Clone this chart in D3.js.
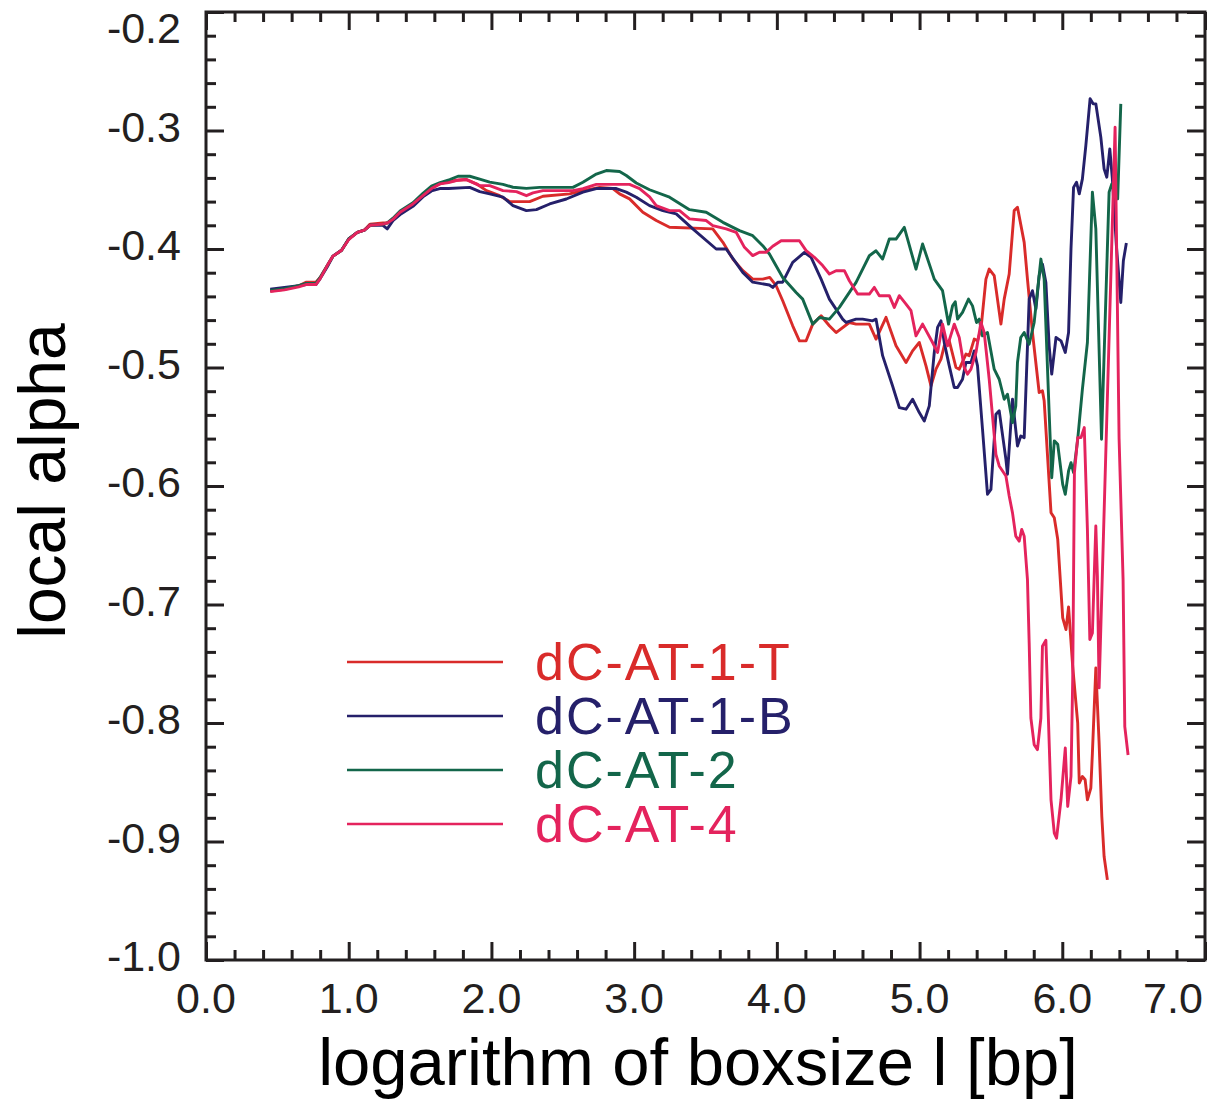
<!DOCTYPE html>
<html>
<head>
<meta charset="utf-8">
<script src="https://cdn.jsdelivr.net/npm/d3@7"></script>
<style>
  html, body { margin: 0; padding: 0; background: #fff; }
  svg { display: block; }
  text { font-family: "Liberation Sans", Arial, Helvetica, sans-serif; }
</style>
</head>
<body>
<svg id="chart" width="1218" height="1102"></svg>
<script>
// ---------------- DATA ----------------
const seriesNames = ["dC-AT-1-T", "dC-AT-1-B", "dC-AT-2", "dC-AT-4"];
const seriesColors = ["#d92b2a", "#25206a", "#13664a", "#e4235d"];

const xTicks = [0, 1, 2, 3, 4, 5, 6, 7];
const yTicks = [-1.0, -0.9, -0.8, -0.7, -0.6, -0.5, -0.4, -0.3, -0.2];

// [log boxsize, local alpha]
const dataT = [
  [0.45,-0.4355],[0.55,-0.434],[0.65,-0.431],[0.70,-0.428],[0.77,-0.428],[0.80,-0.424],[0.85,-0.414],
  [0.89,-0.406],[0.95,-0.401],[1.00,-0.3915],[1.06,-0.386],[1.11,-0.384],[1.15,-0.379],[1.24,-0.378],
  [1.27,-0.378],[1.31,-0.375],[1.36,-0.369],[1.45,-0.362],[1.52,-0.355],[1.58,-0.349],[1.64,-0.345],
  [1.70,-0.343],[1.76,-0.342],[1.825,-0.3414],[1.895,-0.345],[1.965,-0.3507],[2.058,-0.355],[2.128,-0.360],
  [2.268,-0.360],[2.361,-0.3555],[2.548,-0.3535],[2.641,-0.3507],[2.758,-0.348],[2.851,-0.349],[2.898,-0.3535],
  [2.968,-0.3577],[3.061,-0.369],[3.155,-0.376],[3.248,-0.3817],[3.551,-0.383],[3.622,-0.3944],[3.692,-0.4085],
  [3.762,-0.4183],[3.831,-0.4254],[3.901,-0.4254],[3.95,-0.424],[3.995,-0.431],[4.041,-0.4437],[4.111,-0.4648],
  [4.158,-0.4775],[4.205,-0.4775],[4.251,-0.4634],[4.31,-0.4563],[4.368,-0.4648],[4.415,-0.4705],[4.508,-0.462],
  [4.555,-0.4634],[4.648,-0.4634],[4.695,-0.476],[4.765,-0.4577],[4.835,-0.4817],[4.905,-0.4958],[4.951,-0.486],
  [4.998,-0.4789],[5.045,-0.4986],[5.08,-0.5155],[5.115,-0.5014],[5.15,-0.493],[5.173,-0.4817],[5.208,-0.4775],
  [5.255,-0.500],[5.278,-0.5014],[5.325,-0.4887],[5.348,-0.490],[5.383,-0.476],[5.406,-0.4775],[5.43,-0.4676],
  [5.465,-0.4254],[5.488,-0.4169],[5.523,-0.4225],[5.57,-0.4634],[5.593,-0.4423],[5.628,-0.4211],[5.663,-0.3676],
  [5.686,-0.3648],[5.733,-0.3944],[5.756,-0.4254],[5.791,-0.4704],[5.838,-0.5211],[5.861,-0.5197],[5.873,-0.528],
  [5.921,-0.6225],[5.944,-0.6268],[5.968,-0.645],[6.003,-0.7113],[6.026,-0.7211],[6.044,-0.702],[6.073,-0.7522],
  [6.108,-0.800],[6.119,-0.8507],[6.141,-0.8451],[6.16,-0.8479],[6.176,-0.8648],[6.2,-0.855],[6.211,-0.8254],
  [6.235,-0.7536],[6.258,-0.8169],[6.277,-0.8789],[6.293,-0.9127],[6.316,-0.9324]
];

const dataB = [
  [0.45,-0.434],[0.55,-0.4325],[0.65,-0.431],[0.70,-0.430],[0.77,-0.430],[0.80,-0.425],[0.85,-0.415],
  [0.89,-0.406],[0.95,-0.401],[1.00,-0.3915],[1.06,-0.386],[1.11,-0.384],[1.15,-0.380],[1.24,-0.380],
  [1.27,-0.383],[1.31,-0.376],[1.36,-0.371],[1.45,-0.364],[1.52,-0.356],[1.58,-0.351],[1.638,-0.349],
  [1.70,-0.349],[1.848,-0.348],[1.918,-0.3516],[1.988,-0.3535],[2.081,-0.3563],[2.151,-0.3634],[2.245,-0.3676],
  [2.315,-0.3668],[2.408,-0.362],[2.525,-0.3578],[2.641,-0.352],[2.735,-0.349],[2.875,-0.349],[2.945,-0.352],
  [3.015,-0.3563],[3.108,-0.3634],[3.201,-0.3676],[3.295,-0.3704],[3.411,-0.383],[3.575,-0.400],[3.645,-0.400],
  [3.761,-0.4197],[3.831,-0.428],[3.948,-0.4304],[3.971,-0.4324],[4.006,-0.428],[4.041,-0.428],[4.111,-0.4113],
  [4.193,-0.4029],[4.24,-0.407],[4.31,-0.4254],[4.368,-0.4423],[4.461,-0.4592],[4.485,-0.462],[4.555,-0.4592],
  [4.601,-0.4592],[4.671,-0.4606],[4.695,-0.4592],[4.741,-0.490],[4.811,-0.5156],[4.858,-0.5338],[4.905,-0.5352],
  [4.951,-0.5268],[4.998,-0.538],[5.033,-0.5451],[5.068,-0.5324],[5.103,-0.4873],[5.126,-0.4662],[5.15,-0.4606],
  [5.173,-0.479],[5.208,-0.4986],[5.243,-0.5169],[5.266,-0.5169],[5.301,-0.5099],[5.325,-0.4958],[5.36,-0.4958],
  [5.383,-0.486],[5.406,-0.4986],[5.441,-0.5521],[5.476,-0.607],[5.50,-0.6028],[5.535,-0.5394],[5.558,-0.5366],
  [5.605,-0.5775],[5.616,-0.5901],[5.651,-0.5268],[5.686,-0.5662],[5.709,-0.5578],[5.733,-0.5592],[5.768,-0.4423],
  [5.791,-0.4352],[5.815,-0.4507],[5.838,-0.4225],[5.861,-0.4127],[5.885,-0.4282],[5.908,-0.4817],[5.926,-0.5056],
  [5.956,-0.4747],[5.991,-0.4775],[6.021,-0.4873],[6.044,-0.4705],[6.061,-0.40],[6.079,-0.348],[6.10,-0.3437],
  [6.119,-0.3535],[6.141,-0.3408],[6.165,-0.3127],[6.195,-0.2732],[6.216,-0.2775],[6.235,-0.2775],[6.27,-0.3056],
  [6.293,-0.3324],[6.312,-0.3394],[6.333,-0.3155],[6.351,-0.3408],[6.379,-0.397],[6.41,-0.4451],[6.428,-0.4099],
  [6.449,-0.395]
];

const data2 = [
  [0.45,-0.435],[0.55,-0.4335],[0.65,-0.431],[0.70,-0.429],[0.77,-0.429],[0.80,-0.424],[0.85,-0.414],
  [0.89,-0.406],[0.95,-0.401],[1.00,-0.3915],[1.06,-0.386],[1.11,-0.384],[1.15,-0.380],[1.24,-0.379],
  [1.27,-0.378],[1.31,-0.374],[1.36,-0.368],[1.45,-0.361],[1.52,-0.353],[1.58,-0.347],[1.64,-0.344],
  [1.708,-0.3414],[1.766,-0.3386],[1.848,-0.3386],[1.918,-0.341],[1.988,-0.3436],[2.081,-0.3455],[2.151,-0.3479],
  [2.245,-0.3488],[2.338,-0.348],[2.571,-0.348],[2.641,-0.3436],[2.735,-0.3368],[2.805,-0.3338],[2.898,-0.3346],
  [2.945,-0.338],[3.015,-0.3443],[3.108,-0.3500],[3.248,-0.3563],[3.388,-0.3668],[3.505,-0.369],[3.622,-0.3775],
  [3.738,-0.3845],[3.831,-0.3888],[3.901,-0.3972],[3.948,-0.4042],[4.041,-0.424],[4.135,-0.4367],[4.181,-0.4423],
  [4.251,-0.4634],[4.298,-0.4578],[4.368,-0.4592],[4.438,-0.4493],[4.555,-0.4282],[4.648,-0.4057],[4.695,-0.4015],
  [4.741,-0.4085],[4.788,-0.3916],[4.835,-0.3916],[4.893,-0.3817],[4.975,-0.417],[5.021,-0.3958],[5.08,-0.417],
  [5.103,-0.4254],[5.161,-0.4352],[5.203,-0.4634],[5.231,-0.448],[5.25,-0.4445],[5.266,-0.4592],[5.301,-0.4535],
  [5.343,-0.4423],[5.371,-0.448],[5.399,-0.462],[5.418,-0.4592],[5.441,-0.4733],[5.476,-0.4705],[5.523,-0.5014],
  [5.558,-0.5099],[5.593,-0.5268],[5.616,-0.5225],[5.651,-0.5465],[5.674,-0.5324],[5.686,-0.4958],[5.709,-0.4747],
  [5.733,-0.4705],[5.768,-0.4803],[5.803,-0.462],[5.85,-0.4085],[5.873,-0.4254],[5.908,-0.538],[5.926,-0.593],
  [5.944,-0.5619],[5.968,-0.5648],[6.003,-0.5986],[6.021,-0.607],[6.044,-0.5873],[6.061,-0.5803],[6.079,-0.5887],
  [6.108,-0.5606],[6.141,-0.5183],[6.176,-0.4789],[6.211,-0.352],[6.235,-0.3831],[6.275,-0.5606],[6.328,-0.352],
  [6.347,-0.3451],[6.388,-0.3577],[6.41,-0.2775]
];

const data4 = [
  [0.45,-0.436],[0.55,-0.4345],[0.65,-0.432],[0.70,-0.430],[0.77,-0.430],[0.80,-0.425],[0.85,-0.414],
  [0.89,-0.406],[0.95,-0.401],[1.00,-0.392],[1.06,-0.386],[1.11,-0.384],[1.15,-0.380],[1.24,-0.379],
  [1.27,-0.378],[1.31,-0.375],[1.36,-0.369],[1.45,-0.362],[1.52,-0.355],[1.58,-0.349],[1.64,-0.345],
  [1.70,-0.344],[1.76,-0.342],[1.825,-0.3414],[1.918,-0.3465],[1.988,-0.3465],[2.081,-0.3507],[2.175,-0.3516],
  [2.245,-0.355],[2.291,-0.3527],[2.361,-0.3507],[2.571,-0.3507],[2.641,-0.349],[2.735,-0.3455],[2.968,-0.3455],
  [3.038,-0.349],[3.108,-0.356],[3.155,-0.3634],[3.248,-0.3676],[3.318,-0.3676],[3.388,-0.3746],[3.505,-0.376],
  [3.551,-0.3803],[3.645,-0.383],[3.715,-0.3859],[3.773,-0.3986],[3.831,-0.4056],[3.878,-0.4028],[3.924,-0.4028],
  [3.971,-0.3977],[4.03,-0.393],[4.158,-0.393],[4.205,-0.4014],[4.263,-0.407],[4.321,-0.414],[4.368,-0.4211],
  [4.415,-0.4183],[4.473,-0.4183],[4.508,-0.4268],[4.566,-0.438],[4.648,-0.438],[4.683,-0.4324],[4.718,-0.4394],
  [4.788,-0.4394],[4.823,-0.4493],[4.858,-0.4394],[4.905,-0.4465],[4.94,-0.4521],[4.975,-0.4733],[5.021,-0.4634],
  [5.091,-0.4789],[5.126,-0.4873],[5.161,-0.4634],[5.196,-0.4817],[5.243,-0.4634],[5.278,-0.4746],[5.313,-0.500],
  [5.336,-0.5056],[5.36,-0.5014],[5.395,-0.4873],[5.43,-0.462],[5.453,-0.4705],[5.488,-0.5099],[5.535,-0.5733],
  [5.558,-0.5831],[5.605,-0.5916],[5.628,-0.6085],[5.651,-0.6225],[5.674,-0.6423],[5.698,-0.6465],[5.716,-0.6366],
  [5.733,-0.6423],[5.756,-0.679],[5.768,-0.7324],[5.78,-0.7958],[5.803,-0.8183],[5.826,-0.8225],[5.85,-0.7958],
  [5.861,-0.7352],[5.885,-0.7302],[5.921,-0.8648],[5.944,-0.8929],[5.96,-0.8972],[5.991,-0.8648],[6.021,-0.8211],
  [6.038,-0.8704],[6.061,-0.8451],[6.073,-0.7634],[6.085,-0.5887],[6.108,-0.5592],[6.131,-0.5592],[6.154,-0.5507],
  [6.176,-0.6366],[6.193,-0.7296],[6.211,-0.724],[6.235,-0.6338],[6.246,-0.676],[6.258,-0.7704],[6.37,-0.2972],
  [6.398,-0.56],[6.426,-0.679],[6.438,-0.803],[6.461,-0.827]
];

const allSeries = [dataT, dataB, data2, data4];

// ---------------- LAYOUT ----------------
const svg = d3.select("#chart");
const plotL = 206, plotR = 1205, plotT = 12, plotB = 960;
const axisColor = "#231f20";

const x = d3.scaleLinear().domain([0, 7]).range([plotL, plotR]);
const y = d3.scaleLinear().domain([-1.0, -0.2]).range([plotB, plotT]);

const fmt = v => v.toFixed(1);
const xMinor = d3.range(0, 7.0001, 0.2).map(v => +v.toFixed(2));
const yMinor = d3.range(-1.0, -0.1999, 0.02).map(v => +v.toFixed(3));

// series lines
const line = d3.line().x(d => x(d[0])).y(d => y(d[1]));
svg.append("g").selectAll("path")
  .data(allSeries)
  .join("path")
  .attr("d", line)
  .attr("fill", "none")
  .attr("stroke", (d, i) => seriesColors[i])
  .attr("stroke-width", 2.9)
  .attr("stroke-linejoin", "round");

// ticks via d3 axes (inward on all 4 sides)
function styleAxis(g) {
  g.select(".domain").remove();
  g.selectAll(".tick line").attr("stroke", axisColor).attr("stroke-width", 3);
  g.selectAll(".tick text").remove();
}
const isMajorX = v => Math.abs(v - Math.round(v)) < 1e-6;
const isMajorY = v => Math.abs(v * 10 - Math.round(v * 10)) < 1e-6;

svg.append("g").attr("transform", `translate(0,${plotB})`)
  .call(d3.axisTop(x).tickValues(xMinor.filter(v => !isMajorX(v))).tickSize(10)).call(styleAxis);
svg.append("g").attr("transform", `translate(0,${plotB})`)
  .call(d3.axisTop(x).tickValues(xTicks).tickSize(18)).call(styleAxis);
svg.append("g").attr("transform", `translate(0,${plotT})`)
  .call(d3.axisBottom(x).tickValues(xMinor.filter(v => !isMajorX(v))).tickSize(10)).call(styleAxis);
svg.append("g").attr("transform", `translate(0,${plotT})`)
  .call(d3.axisBottom(x).tickValues(xTicks).tickSize(18)).call(styleAxis);
svg.append("g").attr("transform", `translate(${plotL},0)`)
  .call(d3.axisRight(y).tickValues(yMinor.filter(v => !isMajorY(v))).tickSize(10)).call(styleAxis);
svg.append("g").attr("transform", `translate(${plotL},0)`)
  .call(d3.axisRight(y).tickValues(yTicks).tickSize(18)).call(styleAxis);
svg.append("g").attr("transform", `translate(${plotR},0)`)
  .call(d3.axisLeft(y).tickValues(yMinor.filter(v => !isMajorY(v))).tickSize(10)).call(styleAxis);
svg.append("g").attr("transform", `translate(${plotR},0)`)
  .call(d3.axisLeft(y).tickValues(yTicks).tickSize(18)).call(styleAxis);

// frame
svg.append("rect")
  .attr("x", plotL).attr("y", plotT)
  .attr("width", plotR - plotL).attr("height", plotB - plotT)
  .attr("fill", "none").attr("stroke", axisColor).attr("stroke-width", 3);

// tick labels
svg.append("g").selectAll("text")
  .data(xTicks).join("text")
  .attr("x", d => Math.min(x(d), 1173)).attr("y", 1013)
  .attr("text-anchor", "middle")
  .attr("font-size", 43).attr("fill", axisColor)
  .text(d => fmt(d));

svg.append("g").selectAll("text")
  .data(yTicks).join("text")
  .attr("x", 181)
  .attr("y", d => Math.max(y(d), 32) + 11)
  .attr("text-anchor", "end")
  .attr("font-size", 43).attr("fill", axisColor)
  .text(d => fmt(d));

// axis titles
svg.append("text")
  .attr("x", 698).attr("y", 1085)
  .attr("text-anchor", "middle")
  .attr("font-size", 67).attr("fill", "#000")
  .text("logarithm of boxsize l [bp]");

svg.append("text")
  .attr("transform", "translate(65,481) rotate(-90)")
  .attr("text-anchor", "middle")
  .attr("font-size", 66).attr("fill", "#000")
  .text("local alpha");

// legend
const legendY = d3.scaleLinear().domain([0, 3]).range([662, 824]);
const lg = svg.append("g");
seriesNames.forEach((name, i) => {
  lg.append("line")
    .attr("x1", 347).attr("x2", 503)
    .attr("y1", legendY(i)).attr("y2", legendY(i))
    .attr("stroke", seriesColors[i]).attr("stroke-width", 2.7);
  lg.append("text")
    .attr("x", 535).attr("y", legendY(i) + 18)
    .attr("font-size", 52).attr("letter-spacing", 2).attr("fill", seriesColors[i])
    .text(name);
});
</script>
</body>
</html>
